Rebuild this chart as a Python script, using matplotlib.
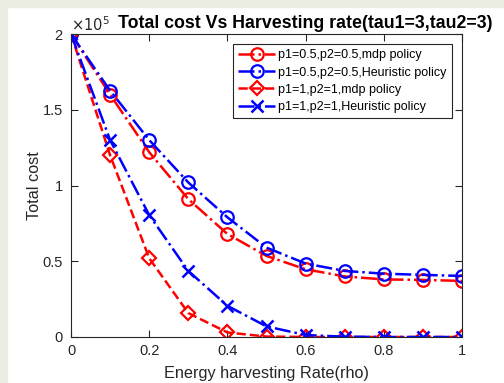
import matplotlib
matplotlib.use("Agg")
import matplotlib.pyplot as plt
from matplotlib.patches import Rectangle

plt.rcParams["font.family"] = ["Liberation Sans", "DejaVu Sans"]

# energy harvesting rate
rho = [0.0, 0.1, 0.2, 0.3, 0.4, 0.5, 0.6, 0.7, 0.8, 0.9, 1.0]

# total cost, in units of 1e5
mdp_p05 = [2.0, 1.60, 1.22, 0.91, 0.68, 0.535, 0.447, 0.40, 0.38, 0.377, 0.37]
heur_p05 = [2.0, 1.626, 1.30, 1.02, 0.79, 0.59, 0.485, 0.436, 0.418, 0.41, 0.403]
mdp_p1 = [2.0, 1.20, 0.52, 0.158, 0.03, 0.003, 0.0, 0.0, 0.0, 0.0, 0.0]
heur_p1 = [2.0, 1.30, 0.805, 0.436, 0.206, 0.07, 0.013, 0.002, 0.0, 0.0, 0.0]

labels = [
    "p1=0.5,p2=0.5,mdp policy",
    "p1=0.5,p2=0.5,Heuristic policy",
    "p1=1,p2=1,mdp policy",
    "p1=1,p2=1,Heuristic policy",
]

x_ticks = [0, 0.2, 0.4, 0.6, 0.8, 1.0]
x_tick_labels = ["0", "0.2", "0.4", "0.6", "0.8", "1"]
y_ticks = [0, 0.5, 1.0, 1.5, 2.0]
y_tick_labels = ["0", "0.5", "1", "1.5", "2"]

fig = plt.figure(figsize=(5.04, 3.83), dpi=100)
fig.patch.set_facecolor("white")
bg = "#eceee4"
fig.patches.append(Rectangle((0, 0), 7 / 504, 1, transform=fig.transFigure, color=bg, zorder=-10))
fig.patches.append(Rectangle((0, 1 - 7 / 383), 1, 7 / 383, transform=fig.transFigure, color=bg, zorder=-10))

ax = fig.add_axes([71 / 504, 46 / 383, 391 / 504, 303 / 383])

style = dict(linewidth=1.8, markersize=9, markerfacecolor="none", markeredgewidth=1.6)
ax.plot(rho, mdp_p05, color="red", linestyle="-.", marker="o", label=labels[0], **style)
ax.plot(rho, heur_p05, color="blue", linestyle="-.", marker="o", label=labels[1], **style)
ax.plot(rho, mdp_p1, color="red", linestyle="--", marker="D", label=labels[2],
        linewidth=1.8, markersize=7.5, markerfacecolor="none", markeredgewidth=1.6)
ax.plot(rho, heur_p1, color="blue", linestyle="-.", marker="x", label=labels[3],
        linewidth=1.8, markersize=8, markeredgewidth=1.8)

ax.set_xlim(0, 1)
ax.set_ylim(0, 2)
ax.set_xticks(x_ticks)
ax.set_xticklabels(x_tick_labels)
ax.set_yticks(y_ticks)
ax.set_yticklabels(y_tick_labels)
ax.tick_params(direction="in", top=True, right=True, length=5, width=0.8,
               labelsize=10.5, labelcolor="#262626", color="#262626")
ax.tick_params(axis="y", pad=6)
ax.tick_params(axis="x", pad=5)
for sp in ax.spines.values():
    sp.set_color("#262626")
    sp.set_linewidth(0.8)

ax.set_xlabel("Energy harvesting Rate(rho)", fontsize=11.7, color="#262626", labelpad=6)
ax.set_ylabel("Total cost", fontsize=11.7, color="#262626", labelpad=0)
ax.set_title("Total cost Vs Harvesting rate(tau1=3,tau2=3)", fontsize=12.8,
             fontweight="bold", pad=4, x=0.60)
ax.text(0.0, 1.0, r"$\times10^5$", transform=ax.transAxes, fontsize=10.5,
        color="#262626", ha="left", va="bottom")

leg = ax.legend(loc="upper right", bbox_to_anchor=(0.974, 0.966), fontsize=9,
                frameon=True, fancybox=False, framealpha=1, edgecolor="#262626",
                handlelength=2.9, borderpad=0.4, labelspacing=0.42, handletextpad=0.3,
                borderaxespad=0)
leg.get_frame().set_linewidth(0.8)

fig.savefig("out.png", dpi=100)
